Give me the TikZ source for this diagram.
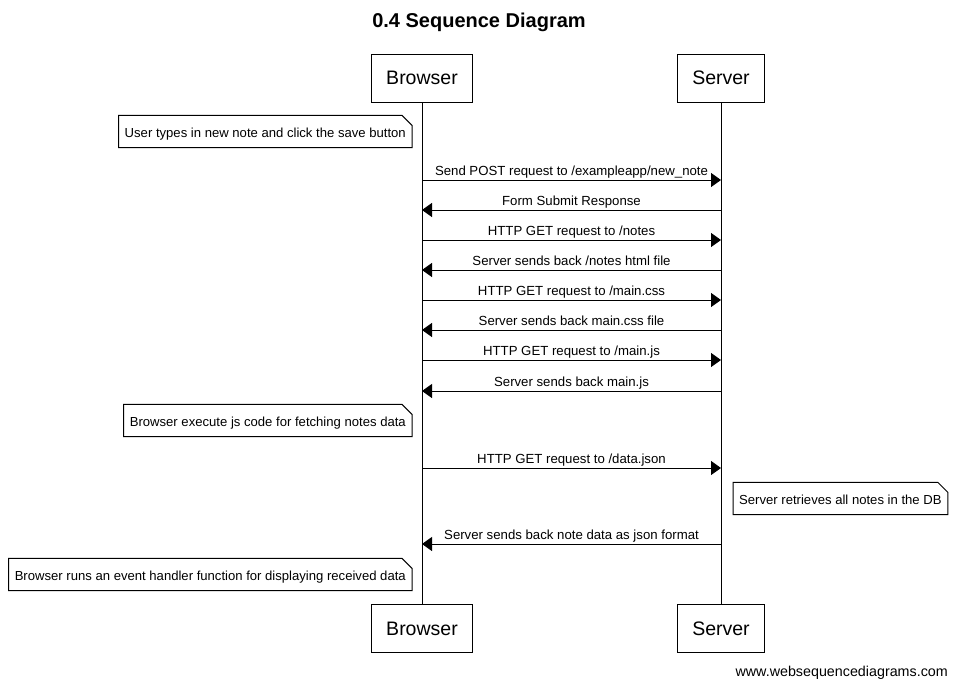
\documentclass[tikz,border=0pt]{standalone}
\usepackage{fontspec}
\setmainfont{Liberation Sans}
\usetikzlibrary{arrows.meta,positioning}

\tikzset{
    actor/.style={draw, line width=1pt, minimum height=48pt, inner xsep=15pt,
        font=\fontsize{19.5}{22}\selectfont},
    lifeline/.style={line width=1pt},
    msg/.style={line width=1pt, -{Triangle[length=10pt,width=14pt]}},
    msglabel/.style={above, inner sep=1pt, text height=10pt, text depth=3pt,
        font=\fontsize{13.2}{15}\selectfont},
    notebox/.style={minimum height=32pt, inner xsep=6pt, text height=13pt, text depth=2pt,
        font=\fontsize{13.1}{15}\selectfont},
}
\newcommand{\drawnote}[1]{%
    \draw[line width=1pt] (#1.north west) -- ([xshift=-10pt]#1.north east)
        -- ([yshift=-10pt]#1.north east) -- (#1.south east) -- (#1.south west) -- cycle;}

\begin{document}
\begin{tikzpicture}[x=1pt,y=-1pt]
                \fill[white] (0,0) rectangle (957,688);
                \useasboundingbox (0,0) rectangle (957,688);
                % title
                \node[font=\fontsize{20}{24}\selectfont\bfseries] (title) at (479,22) {0.4 Sequence Diagram};
                % participants
                \node[actor] (browsertop) at (422,78) {Browser};
                \node[actor] (servertop) at (721,78) {Server};
                \node[actor] (browserbot) at (422,628.5) {Browser};
                \node[actor] (serverbot) at (721,628.5) {Server};
                \draw[lifeline] (browsertop.south) -- (browserbot.north);
                \draw[lifeline] (servertop.south) -- (serverbot.north);
                % notes
                \node[notebox, anchor=east] (typenote) at (412,131.5)
                    {User types in new note and click the save button};
                \drawnote{typenote}
                \node[notebox, anchor=east] (fetchnote) at (412,420.5)
                    {Browser execute js code for fetching notes data};
                \drawnote{fetchnote}
                \node[notebox, anchor=west] (dbnote) at (733,498.5)
                    {Server retrieves all notes in the DB};
                \drawnote{dbnote}
                \node[notebox, anchor=east] (rendernote) at (412,574.5)
                    {Browser runs an event handler function for displaying received data};
                \drawnote{rendernote}
                % message ends on the lifelines
                \coordinate (b1) at (422,180); \coordinate (s1) at (721,180);
                \coordinate (b2) at (422,210); \coordinate (s2) at (721,210);
                \coordinate (b3) at (422,240); \coordinate (s3) at (721,240);
                \coordinate (b4) at (422,270); \coordinate (s4) at (721,270);
                \coordinate (b5) at (422,300); \coordinate (s5) at (721,300);
                \coordinate (b6) at (422,330); \coordinate (s6) at (721,330);
                \coordinate (b7) at (422,360); \coordinate (s7) at (721,360);
                \coordinate (b8) at (422,391); \coordinate (s8) at (721,391);
                \coordinate (b9) at (422,468); \coordinate (s9) at (721,468);
                \coordinate (b10) at (422,544); \coordinate (s10) at (721,544);
                % messages
                \draw[msg] (b1) -- (s1) node[msglabel, midway] {Send POST request to /exampleapp/new\_note};
                \draw[msg] (s2) -- (b2) node[msglabel, midway] {Form Submit Response};
                \draw[msg] (b3) -- (s3) node[msglabel, midway] {HTTP GET request to /notes};
                \draw[msg] (s4) -- (b4) node[msglabel, midway] {Server sends back /notes html file};
                \draw[msg] (b5) -- (s5) node[msglabel, midway] {HTTP GET request to /main.css};
                \draw[msg] (s6) -- (b6) node[msglabel, midway] {Server sends back main.css file};
                \draw[msg] (b7) -- (s7) node[msglabel, midway] {HTTP GET request to /main.js};
                \draw[msg] (s8) -- (b8) node[msglabel, midway] {Server sends back main.js};
                \draw[msg] (b9) -- (s9) node[msglabel, midway] {HTTP GET request to /data.json};
                \draw[msg] (s10) -- (b10) node[msglabel, midway] {Server sends back note data as json format};
                % footer
                \node[anchor=east, inner sep=0pt, font=\fontsize{14.3}{16}\selectfont] (footer) at (948,673)
                    {www.websequencediagrams.com};
            \end{tikzpicture}
\end{document}
